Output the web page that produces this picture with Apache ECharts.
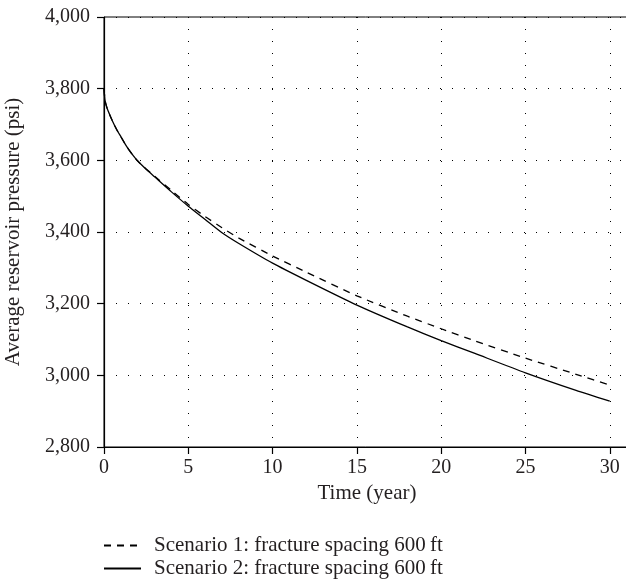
<!DOCTYPE html>
<html><head><meta charset="utf-8">
<script src="https://cdn.jsdelivr.net/npm/echarts@6/dist/echarts.min.js"></script>
<style>html,body{margin:0;padding:0;background:#fff}#c{width:626px;height:586px}</style>
</head><body><div id="c"></div>
<script>
var timeYears = [0, 0.05, 0.1, 0.2, 0.35, 0.5, 0.75, 1, 1.35, 1.7, 2, 2.5, 3, 4, 5, 6, 7, 8, 10, 12, 15, 18, 20, 22, 25, 28, 30];
var scenario1 = [3800, 3771, 3759, 3743, 3726, 3710, 3686, 3666, 3638, 3615, 3598, 3576, 3556, 3516, 3477, 3443, 3412, 3383, 3333, 3288, 3222, 3165, 3130, 3096, 3048, 3003, 2973];
var scenario2 = [3800, 3771, 3759, 3743, 3726, 3710, 3686, 3666, 3638, 3615, 3598, 3575, 3554, 3512, 3472, 3435, 3398, 3368, 3313, 3265, 3196, 3135, 3097, 3061, 3007, 2958, 2928];
var seriesNames = ['Scenario 1: fracture spacing 600\u2009ft', 'Scenario 2: fracture spacing 600\u2009ft'];
var xTicks = [0, 5, 10, 15, 20, 25, 30];

function pairs(xs, ys){ return xs.map(function(x,i){ return [x, ys[i]]; }); }
var FONT = 'Liberation Serif';
var TXT = '#231f20';
function legendFor(name, top){
  return {
    orient:'horizontal', left:98, top:top, itemWidth:37, itemHeight:14,
    itemStyle:{opacity:0},
    textStyle:{fontFamily:FONT, fontSize:21, color:TXT, padding:[0,0,0,8]},
    data:[name]
  };
}
var chart = echarts.init(document.getElementById('c'), null, {renderer:'canvas'});
chart.setOption({
  animation:false,
  backgroundColor:'#fff',
  textStyle:{fontFamily:FONT},
  grid:{left:104, top:17, right:-4, bottom:139, show:true, borderColor:'#000', borderWidth:1,
        containLabel:false, outerBoundsMode:'none'},
  legend:[legendFor(seriesNames[0], 530), legendFor(seriesNames[1], 553)],
  xAxis:{
    type:'value', min:0, max:31.2, interval:5,
    name:'Time (year)', nameLocation:'middle', nameGap:36,
    nameTextStyle:{fontFamily:FONT, fontSize:21, color:TXT},
    axisLine:{show:true, onZero:false, lineStyle:{color:'#000', width:1.2}},
    axisTick:{show:true, length:7, lineStyle:{color:'#000', width:1.2}, customValues: xTicks},
    axisLabel:{fontFamily:FONT, fontSize:20, color:TXT, margin:11, customValues: xTicks},
    splitLine:{show:true, lineStyle:{color:'#000', width:1, type:[1,11]}}
  },
  yAxis:{
    type:'value', min:2800, max:4000, interval:200,
    name:'Average reservoir pressure (psi)', nameLocation:'middle', nameGap:80,
    nameTextStyle:{fontFamily:FONT, fontSize:21, color:TXT},
    axisLine:{show:true, lineStyle:{color:'#000', width:1.2}},
    axisTick:{show:true, length:7, lineStyle:{color:'#000', width:1.2}},
    axisLabel:{fontFamily:FONT, fontSize:20, color:TXT, margin:14,
      formatter:function(v){ return v.toLocaleString('en-US'); }},
    splitLine:{show:true, lineStyle:{color:'#000', width:1, type:[1,11]}}
  },
  series:[
    {name:seriesNames[0], type:'line', smooth:0.2, symbol:'none', data:pairs(timeYears, scenario1),
     lineStyle:{color:'#000', width:1.3, type:[7,6]}, itemStyle:{color:'#000'}},
    {name:seriesNames[1], type:'line', smooth:0.2, symbol:'none', data:pairs(timeYears, scenario2),
     lineStyle:{color:'#000', width:1.3, type:'solid'}, itemStyle:{color:'#000'}}
  ]
});
</script></body></html>
